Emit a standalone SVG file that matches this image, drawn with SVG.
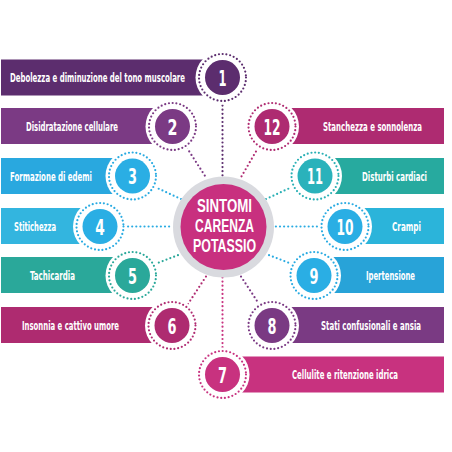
<svg xmlns="http://www.w3.org/2000/svg" width="452" height="452" viewBox="0 0 452 452">
<style>
.lbl{font-family:"Liberation Sans Narrow","DejaVu Sans Condensed","Liberation Sans",sans-serif;font-weight:bold;font-size:11.5px;fill:#fff;text-anchor:middle}
.num{font-family:"Liberation Sans Narrow","DejaVu Sans Condensed","Liberation Sans",sans-serif;font-weight:bold;font-size:22px;fill:#fff;text-anchor:middle}
.ctr{font-family:"Liberation Sans","Liberation Sans Narrow",sans-serif;font-weight:bold;font-size:17.8px;fill:#fff;text-anchor:middle}
.gap{fill:#fff}
.ring{fill:none;stroke-width:2.2;stroke-dasharray:0 3.8;stroke-linecap:round}
.dl{fill:none;stroke-width:2.2;stroke-dasharray:0 4.1;stroke-linecap:round}
</style>
<rect width="452" height="452" fill="#fff"/>
<g id="connectors">
<line class="dl" stroke="#5c2d6e" x1="222.5" y1="101.5" x2="222.5" y2="176.5"/>
<line class="dl" stroke="#7b3a84" x1="187" y1="148" x2="207" y2="179"/>
<line class="dl" stroke="#29abe2" x1="155" y1="187" x2="181.5" y2="199.3"/>
<line class="dl" stroke="#29abe2" x1="124" y1="226.5" x2="173" y2="226.5"/>
<line class="dl" stroke="#2aa89a" x1="155" y1="264" x2="181" y2="254"/>
<line class="dl" stroke="#b02c72" x1="188" y1="304" x2="207" y2="275"/>
<line class="dl" stroke="#c83380" x1="222.5" y1="277.5" x2="222.5" y2="350.5"/>
<line class="dl" stroke="#7b3a84" x1="259" y1="304" x2="240" y2="275"/>
<line class="dl" stroke="#29abe2" x1="292" y1="264" x2="266" y2="254"/>
<line class="dl" stroke="#29abe2" x1="321" y1="226.5" x2="274" y2="226.5"/>
<line class="dl" stroke="#2ab0b5" x1="292" y1="187" x2="265.5" y2="199.3"/>
<line class="dl" stroke="#b02c72" x1="258" y1="148" x2="240" y2="179"/>
</g>
<g id="center">
<circle cx="223.5" cy="227" r="50.5" fill="#d9dadf"/>
<circle cx="223.5" cy="227" r="43" fill="#c8307f"/>
<text class="ctr" transform="translate(224.5 211.8) scale(0.68 1)"><tspan x="0" y="0" textLength="80.9" lengthAdjust="spacingAndGlyphs">SINTOMI</tspan><tspan x="0" y="20" textLength="86.8" lengthAdjust="spacingAndGlyphs">CARENZA</tspan><tspan x="0" y="40" textLength="92.6" lengthAdjust="spacingAndGlyphs">POTASSIO</tspan></text>
</g>
<g id="node1">
<rect x="1" y="59.5" width="221.5" height="36" fill="#5c2d6e"/>
<text class="lbl" transform="translate(97.5 82) scale(0.68 1)" textLength="257.4" lengthAdjust="spacingAndGlyphs">Debolezza e diminuzione del tono muscolare</text>
<circle class="gap" cx="222.5" cy="77.5" r="27"/>
<circle class="ring" stroke="#5c2d6e" cx="222.5" cy="77.5" r="23.5"/>
<circle cx="222.5" cy="77.5" r="17.5" fill="#5c2d6e"/>
<text class="num" transform="translate(222.5 85.5) scale(0.75 1)" textLength="10.7" lengthAdjust="spacingAndGlyphs">1</text>
</g>
<g id="node2">
<rect x="1" y="108" width="171.5" height="36" fill="#7b3a84"/>
<text class="lbl" transform="translate(72 130.5) scale(0.68 1)" textLength="135.3" lengthAdjust="spacingAndGlyphs">Disidratazione cellulare</text>
<circle class="gap" cx="172.5" cy="126.5" r="27"/>
<circle class="ring" stroke="#7b3a84" cx="172.5" cy="126.5" r="23.5"/>
<circle cx="172.5" cy="126.5" r="17.5" fill="#7b3a84"/>
<text class="num" transform="translate(172.5 134.5) scale(0.75 1)" textLength="13.3" lengthAdjust="spacingAndGlyphs">2</text>
</g>
<g id="node3">
<rect x="1" y="158" width="131.5" height="36" fill="#29a8df"/>
<text class="lbl" transform="translate(51 180.5) scale(0.68 1)" textLength="120.6" lengthAdjust="spacingAndGlyphs">Formazione di edemi</text>
<circle class="gap" cx="132.5" cy="176" r="27"/>
<circle class="ring" stroke="#29abe2" cx="132.5" cy="176" r="23.5"/>
<circle cx="132.5" cy="176" r="17.5" fill="#2aaee4"/>
<text class="num" transform="translate(132.5 184) scale(0.75 1)" textLength="12" lengthAdjust="spacingAndGlyphs">3</text>
</g>
<g id="node4">
<rect x="1" y="208" width="99" height="36" fill="#33b5df"/>
<text class="lbl" transform="translate(35 230.5) scale(0.68 1)" textLength="61.8" lengthAdjust="spacingAndGlyphs">Stitichezza</text>
<circle class="gap" cx="100" cy="226.5" r="27"/>
<circle class="ring" stroke="#29abe2" cx="100" cy="226.5" r="23.5"/>
<circle cx="100" cy="226.5" r="17.5" fill="#2aaee4"/>
<text class="num" transform="translate(100 234.5) scale(0.75 1)" textLength="12.7" lengthAdjust="spacingAndGlyphs">4</text>
</g>
<g id="node5">
<rect x="1" y="257" width="131.5" height="36" fill="#2aa89a"/>
<text class="lbl" transform="translate(52.5 279.5) scale(0.68 1)" textLength="66.2" lengthAdjust="spacingAndGlyphs">Tachicardia</text>
<circle class="gap" cx="132.5" cy="275.5" r="27"/>
<circle class="ring" stroke="#2aa89a" cx="132.5" cy="275.5" r="23.5"/>
<circle cx="132.5" cy="275.5" r="17.5" fill="#2aa89a"/>
<text class="num" transform="translate(132.5 283.5) scale(0.75 1)" textLength="12" lengthAdjust="spacingAndGlyphs">5</text>
</g>
<g id="node6">
<rect x="1" y="307" width="171" height="36" fill="#ae2b70"/>
<text class="lbl" transform="translate(70.5 329.5) scale(0.68 1)" textLength="142.6" lengthAdjust="spacingAndGlyphs">Insonnia e cattivo umore</text>
<circle class="gap" cx="172" cy="325.5" r="27"/>
<circle class="ring" stroke="#b02c72" cx="172" cy="325.5" r="23.5"/>
<circle cx="172" cy="325.5" r="17.5" fill="#ae2b70"/>
<text class="num" transform="translate(172 333.5) scale(0.75 1)" textLength="12" lengthAdjust="spacingAndGlyphs">6</text>
</g>
<g id="node7">
<rect x="222.5" y="356.5" width="221.5" height="36" fill="#c8327f"/>
<text class="lbl" transform="translate(345 379) scale(0.68 1)" textLength="155.9" lengthAdjust="spacingAndGlyphs">Cellulite e ritenzione idrica</text>
<circle class="gap" cx="222.5" cy="374.5" r="27"/>
<circle class="ring" stroke="#c83380" cx="222.5" cy="374.5" r="23.5"/>
<circle cx="222.5" cy="374.5" r="17.5" fill="#c8327f"/>
<text class="num" transform="translate(222.5 382.5) scale(0.75 1)" textLength="12" lengthAdjust="spacingAndGlyphs">7</text>
</g>
<g id="node8">
<rect x="272" y="307" width="172" height="36" fill="#7a3a83"/>
<text class="lbl" transform="translate(371 329.5) scale(0.68 1)" textLength="147.1" lengthAdjust="spacingAndGlyphs">Stati confusionali e ansia</text>
<circle class="gap" cx="272" cy="325.5" r="27"/>
<circle class="ring" stroke="#7b3a84" cx="272" cy="325.5" r="23.5"/>
<circle cx="272" cy="325.5" r="17.5" fill="#7a3a83"/>
<text class="num" transform="translate(272 333.5) scale(0.75 1)" textLength="12" lengthAdjust="spacingAndGlyphs">8</text>
</g>
<g id="node9">
<rect x="314" y="257" width="130" height="36" fill="#28a3d8"/>
<text class="lbl" transform="translate(390.5 279.5) scale(0.68 1)" textLength="72.1" lengthAdjust="spacingAndGlyphs">Ipertensione</text>
<circle class="gap" cx="314" cy="275.5" r="27"/>
<circle class="ring" stroke="#29abe2" cx="314" cy="275.5" r="23.5"/>
<circle cx="314" cy="275.5" r="17.5" fill="#2aaee4"/>
<text class="num" transform="translate(314 283.5) scale(0.75 1)" textLength="12" lengthAdjust="spacingAndGlyphs">9</text>
</g>
<g id="node10">
<rect x="345" y="208" width="99" height="36" fill="#2bb4da"/>
<text class="lbl" transform="translate(406.5 230.5) scale(0.68 1)" textLength="42.6" lengthAdjust="spacingAndGlyphs">Crampi</text>
<circle class="gap" cx="345" cy="226.5" r="27"/>
<circle class="ring" stroke="#29abe2" cx="345" cy="226.5" r="23.5"/>
<circle cx="345" cy="226.5" r="17.5" fill="#2aaee4"/>
<text class="num" transform="translate(345 234.5) scale(0.75 1)" textLength="22.7" lengthAdjust="spacingAndGlyphs">10</text>
</g>
<g id="node11">
<rect x="315" y="158" width="129" height="36" fill="#27aa9f"/>
<text class="lbl" transform="translate(394.5 180.5) scale(0.68 1)" textLength="95.6" lengthAdjust="spacingAndGlyphs">Disturbi cardiaci</text>
<circle class="gap" cx="315" cy="176" r="27"/>
<circle class="ring" stroke="#2ab0b5" cx="315" cy="176" r="23.5"/>
<circle cx="315" cy="176" r="17.5" fill="#2ab2bb"/>
<text class="num" transform="translate(315 184) scale(0.75 1)" textLength="21.3" lengthAdjust="spacingAndGlyphs">11</text>
</g>
<g id="node12">
<rect x="272" y="108" width="172" height="36" fill="#ae2b71"/>
<text class="lbl" transform="translate(372.5 130.5) scale(0.68 1)" textLength="145.6" lengthAdjust="spacingAndGlyphs">Stanchezza e sonnolenza</text>
<circle class="gap" cx="272" cy="126.5" r="27"/>
<circle class="ring" stroke="#b02c72" cx="272" cy="126.5" r="23.5"/>
<circle cx="272" cy="126.5" r="17.5" fill="#ae2b71"/>
<text class="num" transform="translate(272 134.5) scale(0.75 1)" textLength="22.7" lengthAdjust="spacingAndGlyphs">12</text>
</g>
</svg>
